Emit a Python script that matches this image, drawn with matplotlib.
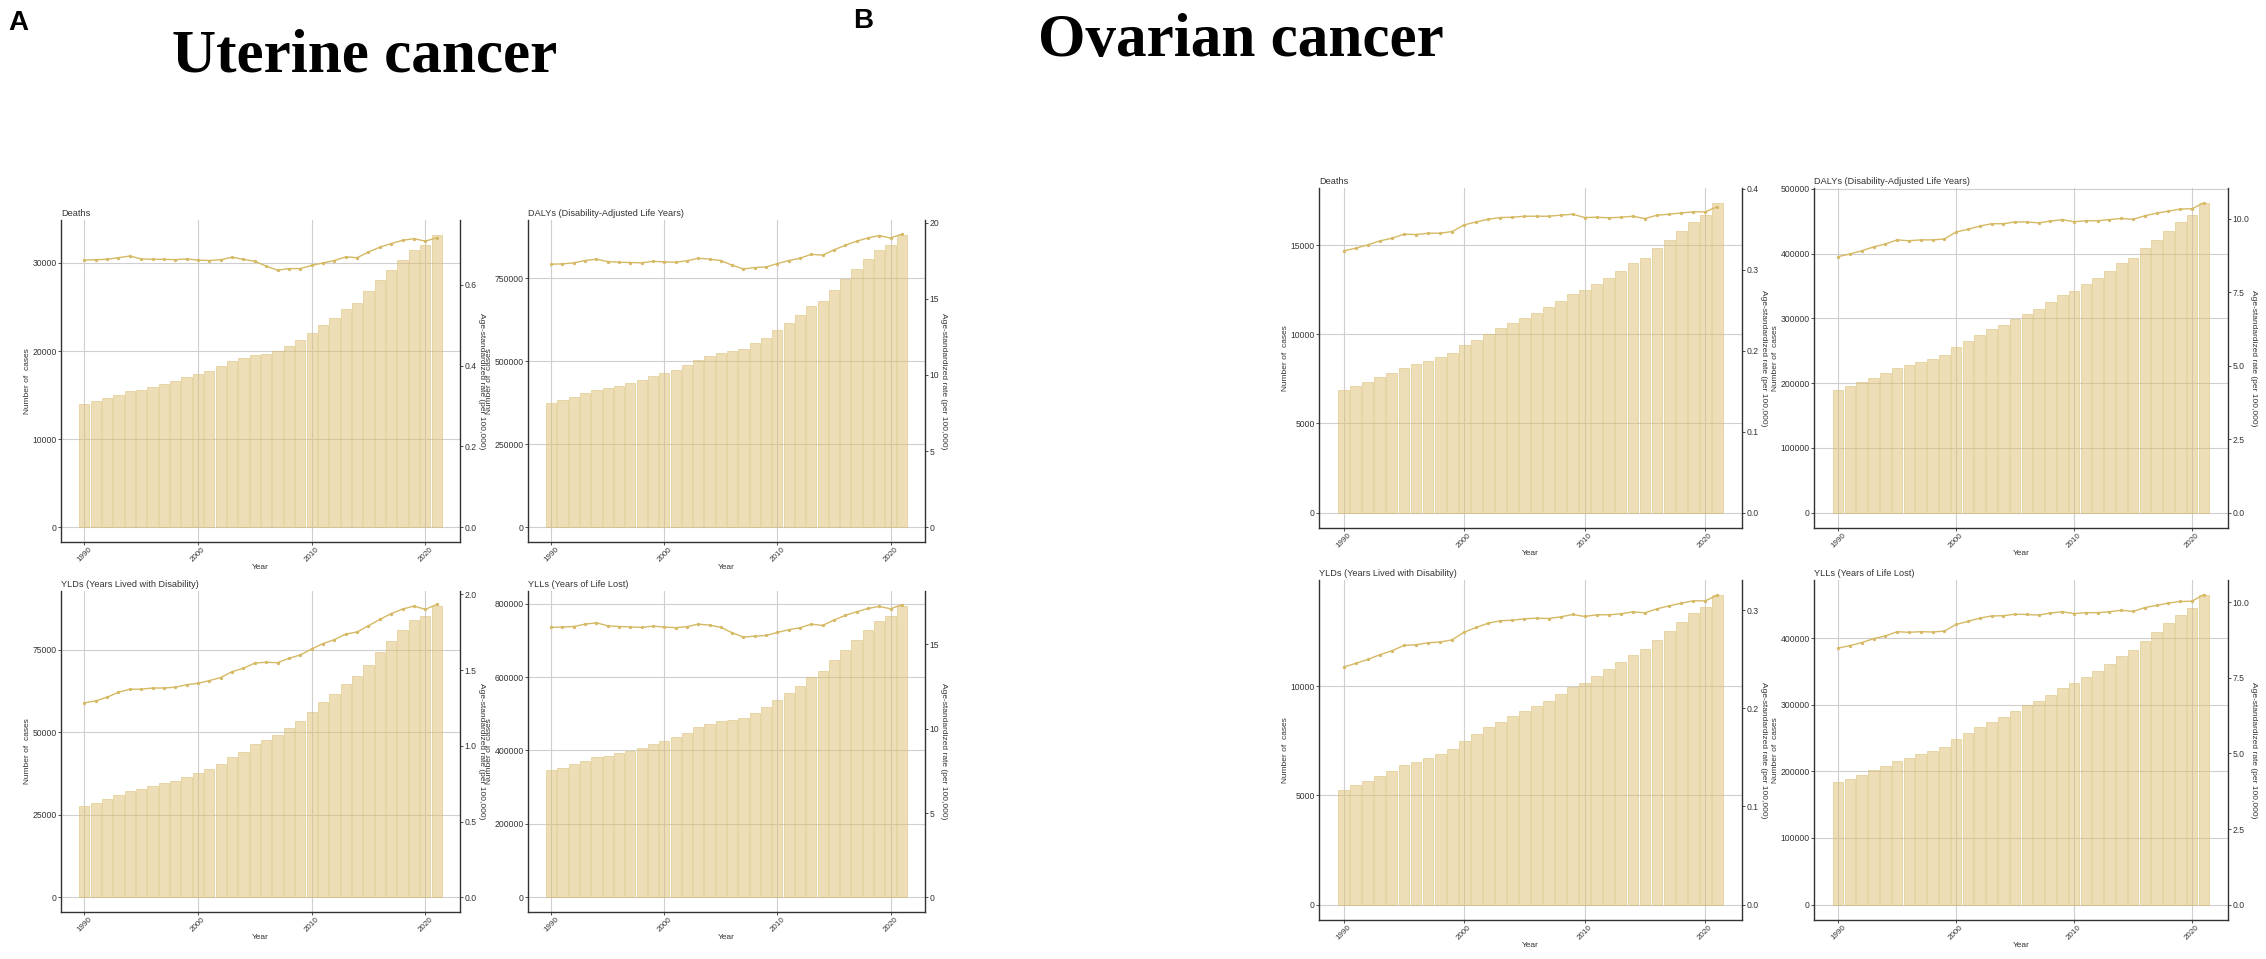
import matplotlib
matplotlib.use("Agg")
import matplotlib.pyplot as plt
from matplotlib.ticker import FixedLocator, FormatStrFormatter

# ---------------- data ----------------
years = list(range(1990, 2022))

# Uterine cancer
ut_deaths_cases = [13950, 14290, 14630, 15040, 15460, 15610, 15910, 16250, 16590, 17080,
                   17410, 17790, 18280, 18850, 19220, 19530, 19680, 19980, 20580, 21220,
                   22010, 22920, 23750, 24800, 25440, 26760, 28010, 29210, 30380, 31470,
                   32080, 33210]
ut_deaths_rate = [0.661, 0.662, 0.663, 0.667, 0.671, 0.664, 0.663, 0.663, 0.662, 0.664,
                  0.661, 0.660, 0.662, 0.668, 0.663, 0.658, 0.646, 0.636, 0.640, 0.640,
                  0.648, 0.654, 0.660, 0.669, 0.667, 0.681, 0.693, 0.702, 0.710, 0.714,
                  0.708, 0.716]

ut_dalys_cases = [373450, 382460, 391470, 403480, 413500, 418500, 425510, 434520, 443530, 455550,
                  464560, 475570, 488590, 505610, 516620, 526630, 530640, 536640, 554660, 570680,
                  593710, 616740, 638760, 665800, 682820, 715860, 748900, 777930, 808970, 836000,
                  851020, 882060]
ut_dalys_rate = [17.27, 17.29, 17.36, 17.51, 17.60, 17.44, 17.40, 17.38, 17.36, 17.46,
                 17.42, 17.40, 17.49, 17.66, 17.60, 17.51, 17.20, 16.96, 17.05, 17.09,
                 17.31, 17.51, 17.66, 17.92, 17.86, 18.21, 18.51, 18.78, 18.99, 19.15,
                 18.99, 19.24]

ut_ylds_cases = [27690, 28690, 29800, 31010, 32220, 32820, 33730, 34530, 35240, 36450,
                 37550, 38860, 40370, 42490, 44200, 46410, 47820, 49130, 51250, 53360,
                 56280, 59100, 61620, 64740, 66950, 70480, 74200, 77620, 81050, 83970,
                 85180, 88400]
ut_ylds_rate = [1.284, 1.297, 1.321, 1.354, 1.374, 1.374, 1.382, 1.382, 1.387, 1.404,
                1.413, 1.431, 1.451, 1.490, 1.512, 1.547, 1.552, 1.549, 1.578, 1.600,
                1.640, 1.675, 1.701, 1.738, 1.752, 1.793, 1.835, 1.873, 1.903, 1.923,
                1.901, 1.934]

ut_ylls_cases = [345810, 353030, 362060, 371990, 381020, 385540, 392760, 399980, 408110, 418950,
                 427070, 437000, 448740, 463190, 473120, 480340, 483050, 487570, 502920, 518260,
                 538130, 557090, 576950, 601330, 616680, 645570, 673560, 700650, 727740, 752120,
                 765660, 794550]
ut_ylls_rate = [16.01, 16.03, 16.06, 16.20, 16.28, 16.10, 16.06, 16.03, 16.01, 16.08,
                16.03, 15.99, 16.05, 16.20, 16.14, 16.01, 15.69, 15.43, 15.49, 15.53,
                15.71, 15.87, 15.99, 16.20, 16.12, 16.44, 16.72, 16.93, 17.13, 17.25,
                17.11, 17.35]

# Ovarian cancer
ov_deaths_cases = [6858, 7082, 7324, 7585, 7846, 8125, 8312, 8517, 8722, 8983,
                   9393, 9709, 10045, 10380, 10641, 10939, 11219, 11536, 11890, 12281,
                   12467, 12840, 13176, 13567, 14014, 14294, 14834, 15300, 15803, 16288,
                   16698, 17350]
ov_deaths_rate = [0.3234, 0.3267, 0.3308, 0.3357, 0.3390, 0.3440, 0.3436, 0.3452, 0.3452, 0.3473,
                  0.3555, 0.3592, 0.3625, 0.3646, 0.3650, 0.3662, 0.3662, 0.3662, 0.3675, 0.3687,
                  0.3646, 0.3650, 0.3642, 0.3650, 0.3662, 0.3633, 0.3675, 0.3687, 0.3703, 0.3716,
                  0.3716, 0.3780]

ov_dalys_cases = [188720, 194870, 201030, 208210, 214870, 222560, 227180, 232820, 237440, 244100,
                  256400, 264620, 274360, 283080, 290260, 299490, 306670, 314870, 325130, 335380,
                  342050, 352310, 362040, 372810, 385120, 393330, 408200, 421010, 434860, 448190,
                  458970, 477430]
ov_dalys_rate = [8.71, 8.80, 8.91, 9.04, 9.14, 9.28, 9.25, 9.28, 9.28, 9.31,
                 9.55, 9.64, 9.75, 9.83, 9.83, 9.89, 9.89, 9.86, 9.92, 9.97,
                 9.90, 9.93, 9.93, 9.97, 10.01, 9.98, 10.10, 10.19, 10.26, 10.33,
                 10.34, 10.54]

ov_ylds_cases = [5261, 5460, 5675, 5905, 6120, 6380, 6534, 6733, 6887, 7117,
                 7485, 7807, 8114, 8359, 8620, 8865, 9110, 9340, 9647, 9985,
                 10153, 10475, 10767, 11089, 11442, 11687, 12132, 12546, 12960, 13344,
                 13635, 14156]
ov_ylds_rate = [0.2420, 0.2458, 0.2498, 0.2546, 0.2586, 0.2641, 0.2647, 0.2668, 0.2675, 0.2698,
                0.2776, 0.2824, 0.2868, 0.2892, 0.2898, 0.2912, 0.2919, 0.2915, 0.2932, 0.2956,
                0.2936, 0.2953, 0.2953, 0.2963, 0.2983, 0.2973, 0.3014, 0.3044, 0.3071, 0.3095,
                0.3095, 0.3153]

ov_ylls_cases = [183800, 189280, 195260, 202730, 208710, 216180, 220660, 226140, 231120, 237100,
                 248060, 257020, 266480, 274450, 281920, 290890, 299360, 305830, 315300, 325260,
                 332230, 341700, 351160, 361120, 373080, 382040, 395990, 409440, 422390, 434840,
                 445800, 464230]
ov_ylls_rate = [8.49, 8.57, 8.67, 8.80, 8.89, 9.03, 9.01, 9.03, 9.02, 9.05,
                9.27, 9.37, 9.48, 9.55, 9.56, 9.61, 9.60, 9.58, 9.65, 9.69,
                9.63, 9.66, 9.66, 9.69, 9.74, 9.70, 9.83, 9.90, 9.98, 10.03,
                10.04, 10.26]

titles = ["Deaths", "DALYs (Disability-Adjusted Life Years)",
          "YLDs (Years Lived with Disability)", "YLLs (Years of Life Lost)"]
x_ticks = [1990, 2000, 2010, 2020]

# ---------------- style ----------------
W, H = 2266, 959
plt.rcParams['font.family'] = ['Liberation Sans', 'DejaVu Sans']
fig = plt.figure(figsize=(W / 100, H / 100), dpi=100)

BAR_FACE = (0.867, 0.749, 0.447, 0.5)
BAR_EDGE = (0.84, 0.72, 0.40, 0.55)
LINE_C = '#D6B964'
AX_C = '#333333'
GRID_C = '#CFCFCF'
TXT_C = '#333333'


def px_axes(l, t, r, b):
    return fig.add_axes([l / W, 1 - b / H, (r - l) / W, (b - t) / H])


def panel(rect, title, cases, rate, lstep, rticks, rfmt, rate_top, show_xlabel=True):
    ax = px_axes(*rect)
    ax.set_axisbelow(True)
    ax.bar(years, cases, width=0.9, color=BAR_FACE, edgecolor=BAR_EDGE,
           linewidth=0.6, zorder=2)
    m = max(cases)
    ax.set_ylim(-0.05 * m, 1.05 * m)
    ax.set_xlim(1987.95, 2023.05)
    lt = []
    v = 0
    while v <= 1.05 * m:
        lt.append(v)
        v += lstep
    ax.yaxis.set_major_locator(FixedLocator(lt))
    ax.yaxis.set_major_formatter(FormatStrFormatter('%d'))
    ax.set_xticks(x_ticks)
    ax.grid(True, color=GRID_C, lw=0.8)
    for s in ['top', 'right']:
        ax.spines[s].set_visible(False)
    for s in ['left', 'bottom']:
        ax.spines[s].set_color(AX_C)
        ax.spines[s].set_linewidth(1.0)
    ax.tick_params(axis='y', length=2, width=0.6, color=AX_C, pad=1,
                   labelsize=6.2, labelcolor=TXT_C)
    ax.tick_params(axis='x', length=2, width=0.6, color=AX_C, pad=1,
                   labelsize=5.8, labelcolor=TXT_C)
    for lab in ax.get_xticklabels():
        lab.set_rotation(45)
        lab.set_ha('center')
        lab.set_va('top')
    ax.set_ylabel('Number of  cases', fontsize=6.0, color=TXT_C, labelpad=1)
    if show_xlabel:
        ax.set_xlabel('Year', fontsize=6.0, color=TXT_C, labelpad=0)
    ax.set_title(title, loc='left', fontsize=6.6, color=TXT_C, pad=3)

    ax2 = ax.twinx()
    ax2.plot(years, rate, color=LINE_C, lw=1.0, marker='o', ms=2.4,
             markeredgewidth=0, zorder=3)
    ax2.set_ylim(-0.05 * rate_top, 1.05 * rate_top)
    ax2.yaxis.set_major_locator(FixedLocator(rticks))
    ax2.yaxis.set_major_formatter(FormatStrFormatter(rfmt))
    for s in ['top', 'left', 'bottom']:
        ax2.spines[s].set_visible(False)
    ax2.spines['right'].set_color(AX_C)
    ax2.spines['right'].set_linewidth(1.0)
    ax2.tick_params(axis='y', length=2, width=0.6, color=AX_C, pad=1,
                    labelsize=6.2, labelcolor=TXT_C)
    ax2.set_ylabel('Age-standardized rate (per 100,000)', fontsize=6.0,
                   color=TXT_C, rotation=270, va='bottom', labelpad=1)
    return ax


# Panel A: Uterine cancer
panel((61, 220, 460, 542), titles[0], ut_deaths_cases, ut_deaths_rate,
      10000, [0.0, 0.2, 0.4, 0.6], '%.1f', 0.724)
panel((528, 220, 925, 542), titles[1], ut_dalys_cases, ut_dalys_rate,
      250000, [0, 5, 10, 15, 20], '%d', 19.21)
panel((61, 591, 460, 912), titles[2], ut_ylds_cases, ut_ylds_rate,
      25000, [0.0, 0.5, 1.0, 1.5, 2.0], '%.1f', 1.926)
panel((528, 591, 925, 912), titles[3], ut_ylls_cases, ut_ylls_rate,
      200000, [0, 5, 10, 15], '%d', 17.30)

# Panel B: Ovarian cancer
panel((1319, 188, 1742, 528), titles[0], ov_deaths_cases, ov_deaths_rate,
      5000, [0.0, 0.1, 0.2, 0.3, 0.4], '%.1f', 0.382)
panel((1814, 188, 2228, 528), titles[1], ov_dalys_cases, ov_dalys_rate,
      100000, [0.0, 2.5, 5.0, 7.5, 10.0], '%.1f', 10.52)
panel((1319, 580, 1742, 920), titles[2], ov_ylds_cases, ov_ylds_rate,
      5000, [0.0, 0.1, 0.2, 0.3], '%.1f', 0.315)
panel((1814, 580, 2228, 920), titles[3], ov_ylls_cases, ov_ylls_rate,
      100000, [0.0, 2.5, 5.0, 7.5, 10.0], '%.1f', 10.23)

# Big titles and panel letters
fig.text(365 / W, 1 - 72 / H, 'Uterine cancer', ha='center', va='baseline',
         fontsize=44, fontweight='bold', family=['Liberation Serif', 'DejaVu Serif'])
fig.text(1241 / W, 1 - 56 / H, 'Ovarian cancer', ha='center', va='baseline',
         fontsize=44, fontweight='bold', family=['Liberation Serif', 'DejaVu Serif'])
fig.text(8 / W, 1 - 30 / H, 'A', ha='left', va='baseline', fontsize=20,
         fontweight='bold')
fig.text(853 / W, 1 - 28 / H, 'B', ha='left', va='baseline', fontsize=20,
         fontweight='bold')

fig.savefig('out.png', dpi=100, facecolor='white')
